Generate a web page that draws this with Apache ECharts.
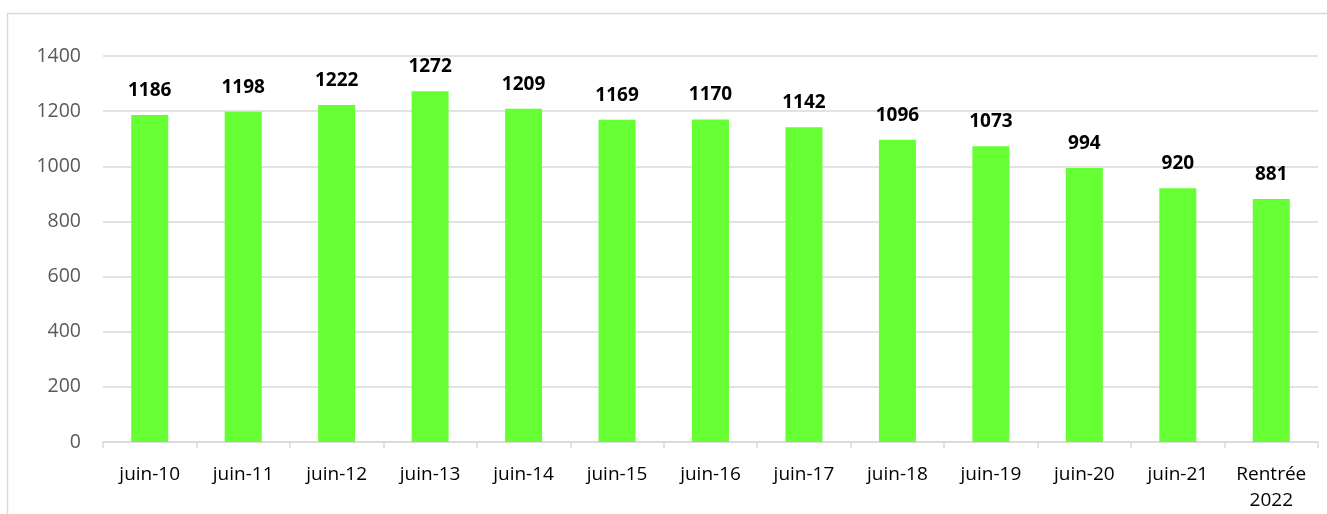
<!DOCTYPE html>
<html>
<head>
<meta charset="utf-8">
<script src="https://cdn.jsdelivr.net/npm/echarts@6/dist/echarts.min.js"></script>
<style>html,body{margin:0;padding:0;background:#fff}#c{width:1327px;height:514px}</style>
</head>
<body>
<div id="c"></div>
<script>
const categories = ['juin-10','juin-11','juin-12','juin-13','juin-14','juin-15','juin-16','juin-17','juin-18','juin-19','juin-20','juin-21','Rentrée\n2022'];
const values = [1186,1198,1222,1272,1209,1169,1170,1142,1096,1073,994,920,881];
const yTicks = {min:0, max:1400, interval:200};

const chart = echarts.init(document.getElementById('c'));
chart.setOption({
  animation:false,
  textStyle:{fontFamily:'Open Sans'},
  graphic:[{type:'rect',shape:{x:7.5,y:13.5,width:1340,height:600},style:{fill:'none',stroke:'#d9d9d9',lineWidth:1.5},silent:true}],
  grid:{left:103,right:9,top:56,bottom:71},
  xAxis:{type:'category',data:categories,
    axisLine:{lineStyle:{color:'#d9d9d9',width:1.5}},
    axisTick:{show:true,length:6,lineStyle:{color:'#d9d9d9',width:1.5}},
    axisLabel:{color:'#000',fontSize:19,fontFamily:'Open Sans',margin:20,lineHeight:26,interval:0}},
  yAxis:{type:'value',min:yTicks.min,max:yTicks.max,interval:yTicks.interval,
    axisLine:{show:false},axisTick:{show:false},
    splitLine:{lineStyle:{color:'#d9d9d9',width:1.5}},
    axisLabel:{color:'#595959',fontSize:19.5,fontFamily:'Open Sans',margin:22,formatter:v=>String(v)}},
  series:[{type:'bar',data:values,barWidth:37,itemStyle:{color:'#66ff33'},
    label:{show:true,position:'top',distance:15,color:'#000',fontWeight:'bold',fontSize:19,fontFamily:'Open Sans'}}]
});
</script>
</body>
</html>
